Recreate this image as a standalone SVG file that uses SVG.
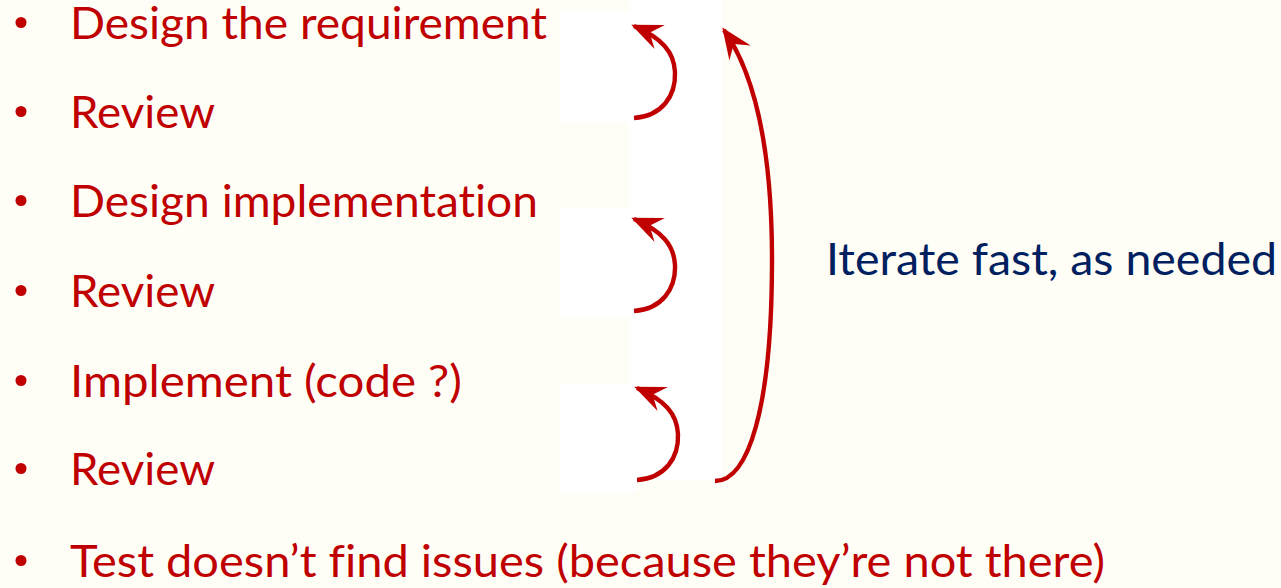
<svg xmlns="http://www.w3.org/2000/svg" width="1281" height="588" viewBox="0 0 1281 588">
  <style>
    .item, .note { font-family: Lato, "Open Sans", "Liberation Sans", sans-serif; font-size: 45px; font-variant-ligatures: none; font-feature-settings: "liga" 0, "clig" 0; }
    .item { fill: #C00000; }
    .note { fill: #002060; }
    .bullet { fill: #C00000; }
    .loop { fill: none; stroke: #C00000; stroke-width: 4.4; stroke-linecap: butt; }
    .pad { fill: #FFFFFF; }
  </style>
  <defs>
    <marker id="head" markerUnits="userSpaceOnUse" viewBox="-32 -16 40 32" refX="0" refY="0" markerWidth="40" markerHeight="32" orient="auto" overflow="visible">
      <path d="M3,0 L-28,-13 L-17,0 L-28,13 Z" fill="#C00000"/>
    </marker>
  </defs>

  <!-- page background -->
  <rect x="0" y="0" width="1281" height="588" fill="#FEFEF7"/>

  <!-- white backing panels behind the loop arrows -->
  <g id="panels">
    <rect class="pad" x="629" y="0" width="93" height="480"/>
    <rect class="pad" x="560" y="12" width="70" height="110"/>
    <rect class="pad" x="560" y="207" width="70" height="110"/>
    <rect class="pad" x="560" y="383" width="77" height="109"/>
  </g>

  <g id="step-design-requirement">
    <circle class="bullet" cx="21" cy="22.5" r="5.5"/>
    <text class="item" x="70" y="39" textLength="477" lengthAdjust="spacingAndGlyphs">Design the requirement</text>
  </g>
  <g id="step-review-1">
    <circle class="bullet" cx="21" cy="111.5" r="5.5"/>
    <text class="item" x="70" y="128" textLength="145" lengthAdjust="spacingAndGlyphs">Review</text>
  </g>
  <g id="step-design-implementation">
    <circle class="bullet" cx="21" cy="200.5" r="5.5"/>
    <text class="item" x="70" y="217" textLength="468" lengthAdjust="spacingAndGlyphs">Design implementation</text>
  </g>
  <g id="step-review-2">
    <circle class="bullet" cx="21" cy="290.5" r="5.5"/>
    <text class="item" x="70" y="307" textLength="145" lengthAdjust="spacingAndGlyphs">Review</text>
  </g>
  <g id="step-implement">
    <circle class="bullet" cx="21" cy="380.5" r="5.5"/>
    <text class="item" x="70" y="397" textLength="392" lengthAdjust="spacingAndGlyphs">Implement (code ?)</text>
  </g>
  <g id="step-review-3">
    <circle class="bullet" cx="21" cy="468.5" r="5.5"/>
    <text class="item" x="70" y="485" textLength="145" lengthAdjust="spacingAndGlyphs">Review</text>
  </g>
  <g id="step-test">
    <circle class="bullet" cx="21" cy="560.5" r="5.5"/>
    <text class="item" x="70" y="577" textLength="1035" lengthAdjust="spacingAndGlyphs">Test doesn’t find issues (because they’re not there)</text>
  </g>
  <g id="label-iterate">
    <text class="note" x="826" y="275" textLength="451" lengthAdjust="spacingAndGlyphs">Iterate fast, as needed</text>
  </g>

  <!-- feedback loops -->
  <g id="connectors">
    <path class="loop" marker-end="url(#head)" d="M634,118 C662,116 676,96 675,72 C674,52 662,38 634,26"/>
    <path class="loop" marker-end="url(#head)" d="M634,311 C662,309 676,289 675,265 C674,245 662,231 634,219"/>
    <path class="loop" marker-end="url(#head)" d="M637,480 C665,478 679,458 678,434 C677,414 665,400 637,388"/>
    <path class="loop" marker-end="url(#head)" d="M715,481 C748,481 772,410 772,260 C772,140 752,70 724,30"/>
  </g>
</svg>
